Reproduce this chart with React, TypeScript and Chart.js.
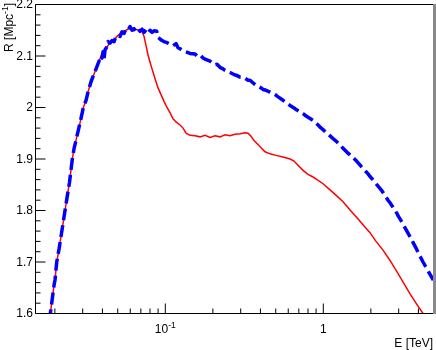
import React, { useEffect, useRef } from "react";
import { Chart, registerables } from "chart.js";

Chart.register(...registerables);

// ---- Data (E in TeV, R in Mpc^-1) ----
const blueE = [
  0.01837, 0.01872, 0.01919, 0.01976, 0.02004, 0.02055, 0.02125, 0.02188, 0.02253, 0.02319,
  0.02388, 0.02476, 0.02579, 0.02644, 0.02762, 0.02886, 0.03028, 0.0315, 0.03242, 0.03387,
  0.03539, 0.03697, 0.03806, 0.03919, 0.03977, 0.04035, 0.04094, 0.04154, 0.04277, 0.0434,
  0.04468, 0.046, 0.04737, 0.04876, 0.05021, 0.05169, 0.05322, 0.0548, 0.05641, 0.05809,
  0.0598, 0.06157, 0.06339, 0.06527, 0.0672, 0.06918, 0.07124, 0.07334, 0.07551, 0.07775,
  0.08004, 0.08241, 0.08485, 0.08825, 0.0893, 0.09261, 0.09535, 0.09815, 0.1025, 0.1071,
  0.1119, 0.1169, 0.1204, 0.124, 0.1295, 0.1353, 0.1434, 0.1542, 0.1588, 0.1659,
  0.1733, 0.1784, 0.1919, 0.2064, 0.2125, 0.222, 0.2319, 0.2388, 0.2568, 0.2762,
  0.2844, 0.2971, 0.315, 0.3339, 0.3437, 0.3643, 0.3806, 0.4035, 0.4154, 0.4277,
  0.4599, 0.5021, 0.5095, 0.5561, 0.6157, 0.6527, 0.6819, 0.7443, 0.7663, 0.8004,
  0.861, 0.9126, 0.9535, 0.9961, 1.0558, 1.103, 1.1694, 1.2217, 1.2764, 1.3332,
  1.4134, 1.4763, 1.5648, 1.6348, 1.733, 1.8105, 1.9193, 1.9758, 2.1251, 2.1563,
  2.3535, 2.3878, 2.5686, 2.644, 2.7623, 2.9286, 2.9706, 3.1957, 3.2423, 3.4369,
  3.539, 3.6972, 3.8627, 3.9774, 4.2774, 4.5993, 4.972, 5.2456,
];
const blueR = [
  1.585, 1.6, 1.625, 1.655, 1.665, 1.7, 1.725, 1.75, 1.775, 1.8,
  1.825, 1.855, 1.9, 1.92, 1.945, 1.97, 2.0, 2.014, 2.03, 2.05,
  2.065, 2.08, 2.09, 2.1, 2.096, 2.108, 2.093, 2.112, 2.118, 2.128,
  2.125, 2.13, 2.128, 2.138, 2.14, 2.138, 2.147, 2.144, 2.152, 2.15,
  2.157, 2.15, 2.153, 2.147, 2.152, 2.148, 2.152, 2.146, 2.151, 2.145,
  2.15, 2.146, 2.149, 2.148, 2.137, 2.133, 2.13, 2.128, 2.126, 2.123,
  2.12, 2.124, 2.116, 2.114, 2.11, 2.108, 2.105, 2.104, 2.1, 2.102,
  2.096, 2.094, 2.09, 2.083, 2.084, 2.078, 2.075, 2.072, 2.068, 2.063,
  2.062, 2.059, 2.058, 2.053, 2.053, 2.046, 2.042, 2.038, 2.035, 2.034,
  2.03, 2.024, 2.022, 2.014, 2.004, 1.999, 1.995, 1.988, 1.985, 1.981,
  1.975, 1.968, 1.962, 1.957, 1.95, 1.945, 1.938, 1.933, 1.927, 1.921,
  1.913, 1.908, 1.901, 1.895, 1.886, 1.88, 1.871, 1.866, 1.855, 1.852,
  1.838, 1.835, 1.82, 1.815, 1.806, 1.794, 1.79, 1.774, 1.77, 1.756,
  1.749, 1.738, 1.727, 1.719, 1.7, 1.683, 1.665, 1.653,
];

const redE = [
  0.01837, 0.01872, 0.01919, 0.01976, 0.02004, 0.02055, 0.02125, 0.02188, 0.02253, 0.02319,
  0.02388, 0.02476, 0.02579, 0.02644, 0.02762, 0.02886, 0.03028, 0.0315, 0.03242, 0.03387,
  0.03539, 0.03697, 0.03919, 0.04094, 0.04277, 0.04468, 0.04737, 0.05021, 0.05322, 0.05641,
  0.0598, 0.06433, 0.06918, 0.07124, 0.07334, 0.07551, 0.07775, 0.08004, 0.08241, 0.0861,
  0.08995, 0.09395, 0.09815, 0.1025, 0.1071, 0.1119, 0.1169, 0.124, 0.1295, 0.1353,
  0.1434, 0.1542, 0.1659, 0.1784, 0.1919, 0.2064, 0.222, 0.2388, 0.2568, 0.2762,
  0.2971, 0.3196, 0.3339, 0.3488, 0.3643, 0.3806, 0.4035, 0.4277, 0.4599, 0.5021,
  0.5561, 0.6157, 0.6527, 0.6918, 0.7443, 0.8004, 0.861, 0.9126, 0.9961, 1.103,
  1.2217, 1.3332, 1.4763, 1.6348, 1.8105, 1.9758, 2.1563, 2.3878, 2.644, 2.9286,
  3.2423, 3.539, 3.8627, 4.2774, 4.5993,
];
const redR = [
  1.585, 1.6, 1.625, 1.655, 1.665, 1.7, 1.725, 1.75, 1.775, 1.8,
  1.825, 1.855, 1.9, 1.92, 1.945, 1.97, 2.0, 2.014, 2.03, 2.05,
  2.065, 2.08, 2.1, 2.11, 2.118, 2.125, 2.132, 2.14, 2.146, 2.15,
  2.154, 2.152, 2.15, 2.148, 2.138, 2.12, 2.102, 2.088, 2.075, 2.056,
  2.038, 2.025, 2.012, 2.0, 1.99, 1.978, 1.972, 1.966, 1.96, 1.95,
  1.946, 1.945, 1.943, 1.946, 1.942, 1.945, 1.943, 1.947, 1.945, 1.948,
  1.949, 1.951, 1.95, 1.944, 1.936, 1.93, 1.922, 1.914, 1.91, 1.907,
  1.904, 1.9, 1.896, 1.888, 1.878, 1.87, 1.865, 1.86, 1.852, 1.84,
  1.828, 1.817, 1.801, 1.786, 1.77, 1.757, 1.74, 1.723, 1.703, 1.681,
  1.658, 1.638, 1.62, 1.6, 1.585,
];

// ---- Axes ----
const xMin = 0.01508;
const xMax = 4.947;
const yMin = 1.6;
const yMax = 2.2;
const yMajorTicks = [1.6, 1.7, 1.8, 1.9, 2.0, 2.1, 2.2];
const yTickLabels = ["1.6", "1.7", "1.8", "1.9", "2", "2.1", "2.2"];
const yMinorTicks = [
  1.62, 1.64, 1.66, 1.68, 1.72, 1.74, 1.76, 1.78, 1.82, 1.84, 1.86, 1.88,
  1.92, 1.94, 1.96, 1.98, 2.02, 2.04, 2.06, 2.08, 2.12, 2.14, 2.16, 2.18,
];
const xMajorTicks = [0.1, 1];
const xTickMain = ["10", "1"];
const xTickSup = ["-1", ""];
const xMinorTicks = [
  0.02, 0.03, 0.04, 0.05, 0.06, 0.07, 0.08, 0.09,
  0.2, 0.3, 0.4, 0.5, 0.6, 0.7, 0.8, 0.9, 2, 3, 4,
];
const xTitle = "E [TeV]";
const yTitleMain = "R [Mpc";
const yTitleSup = "-1";
const yTitleEnd = "]";

const FONT = "'Liberation Sans', Arial, Helvetica, sans-serif";

const rootFrame = {
  id: "rootFrame",
  afterDraw(chart: any) {
    const ctx: CanvasRenderingContext2D = chart.ctx;
    const { left, right, top, bottom } = chart.chartArea;
    const xs = chart.scales.x;
    const ys = chart.scales.y;
    ctx.save();
    ctx.strokeStyle = "#000";
    ctx.lineWidth = 1;
    ctx.beginPath();
    ctx.moveTo(left, top);
    ctx.lineTo(right, top);
    ctx.moveTo(left, top);
    ctx.lineTo(left, bottom);
    ctx.moveTo(left, bottom);
    ctx.lineTo(right, bottom);
    ctx.stroke();
    ctx.fillStyle = "#8a8a8a";
    ctx.fillRect(right, top - 0.5, 3, bottom - top + 1);

    // y ticks
    ctx.beginPath();
    yMajorTicks.forEach((v) => {
      const p = ys.getPixelForValue(v);
      ctx.moveTo(left, p);
      ctx.lineTo(left + 10, p);
    });
    yMinorTicks.forEach((v) => {
      const p = ys.getPixelForValue(v);
      ctx.moveTo(left, p);
      ctx.lineTo(left + 5, p);
    });
    // x ticks
    xMajorTicks.forEach((v) => {
      const p = xs.getPixelForValue(v);
      ctx.moveTo(p, bottom);
      ctx.lineTo(p, bottom - 10);
    });
    xMinorTicks.forEach((v) => {
      const p = xs.getPixelForValue(v);
      ctx.moveTo(p, bottom);
      ctx.lineTo(p, bottom - 5);
    });
    ctx.stroke();

    ctx.fillStyle = "#000";
    // y labels
    ctx.font = `12px ${FONT}`;
    ctx.textAlign = "right";
    ctx.textBaseline = "middle";
    yMajorTicks.forEach((v, i) => {
      ctx.fillText(yTickLabels[i], left - 2.5, ys.getPixelForValue(v) + 0.5);
    });

    // x labels
    ctx.textAlign = "left";
    ctx.textBaseline = "alphabetic";
    xMajorTicks.forEach((v, i) => {
      const p = xs.getPixelForValue(v);
      ctx.font = `12px ${FONT}`;
      const w1 = ctx.measureText(xTickMain[i]).width;
      ctx.font = `8.5px ${FONT}`;
      const w2 = xTickSup[i] ? ctx.measureText(xTickSup[i]).width : 0;
      const start = p - (w1 + w2) / 2;
      ctx.font = `12px ${FONT}`;
      ctx.fillText(xTickMain[i], start, 333);
      if (xTickSup[i]) {
        ctx.font = `8.5px ${FONT}`;
        ctx.fillText(xTickSup[i], start + w1, 328);
      }
    });

    // x title
    ctx.font = `12px ${FONT}`;
    ctx.textAlign = "right";
    ctx.fillText(xTitle, right, 346.5);

    // y title (rotated)
    ctx.save();
    ctx.translate(12.7, 3);
    ctx.rotate(-Math.PI / 2);
    ctx.textAlign = "left";
    ctx.font = `12px ${FONT}`;
    const a = ctx.measureText(yTitleMain).width;
    const c = ctx.measureText(yTitleEnd).width;
    ctx.font = `8.5px ${FONT}`;
    const b = ctx.measureText(yTitleSup).width;
    let x0 = -(a + b + c);
    ctx.font = `12px ${FONT}`;
    ctx.fillText(yTitleMain, x0, 0);
    x0 += a;
    ctx.font = `8.5px ${FONT}`;
    ctx.fillText(yTitleSup, x0, -5);
    x0 += b;
    ctx.font = `12px ${FONT}`;
    ctx.fillText(yTitleEnd, x0, 0);
    ctx.restore();

    ctx.restore();
  },
};

export default function App() {
  const ref = useRef<HTMLCanvasElement | null>(null);
  useEffect(() => {
    if (!ref.current) return;
    const chart = new Chart(ref.current, {
      type: "line",
      data: {
        datasets: [
          {
            label: "blue",
            data: blueE.map((x, i) => ({ x, y: blueR[i] })),
            borderColor: "#0000ff",
            borderWidth: 3.5,
            borderDash: [12, 5],
            borderJoinStyle: "round",
            pointRadius: 0,
            tension: 0,
            fill: false,
            clip: 0,
          } as any,
          {
            label: "red",
            data: redE.map((x, i) => ({ x, y: redR[i] })),
            borderColor: "#ff0000",
            borderWidth: 1.5,
            pointRadius: 0,
            tension: 0,
            fill: false,
            clip: 0,
          } as any,
        ],
      },
      options: {
        animation: false,
        responsive: false,
        devicePixelRatio: 1,
        events: [],
        layout: { padding: { left: 35.5, right: 3, top: 4.5, bottom: 36.5 } },
        scales: {
          x: { type: "logarithmic", min: xMin, max: xMax, display: false },
          y: { type: "linear", min: yMin, max: yMax, display: false },
        },
        plugins: { legend: { display: false }, tooltip: { enabled: false } },
      },
      plugins: [rootFrame],
    });
    return () => chart.destroy();
  }, []);
  return (
    <div style={{ position: "absolute", left: 0, top: 0, width: 436, height: 350, background: "#fff" }}>
      <canvas ref={ref} width={436} height={350} style={{ width: 436, height: 350, display: "block" }} />
    </div>
  );
}
